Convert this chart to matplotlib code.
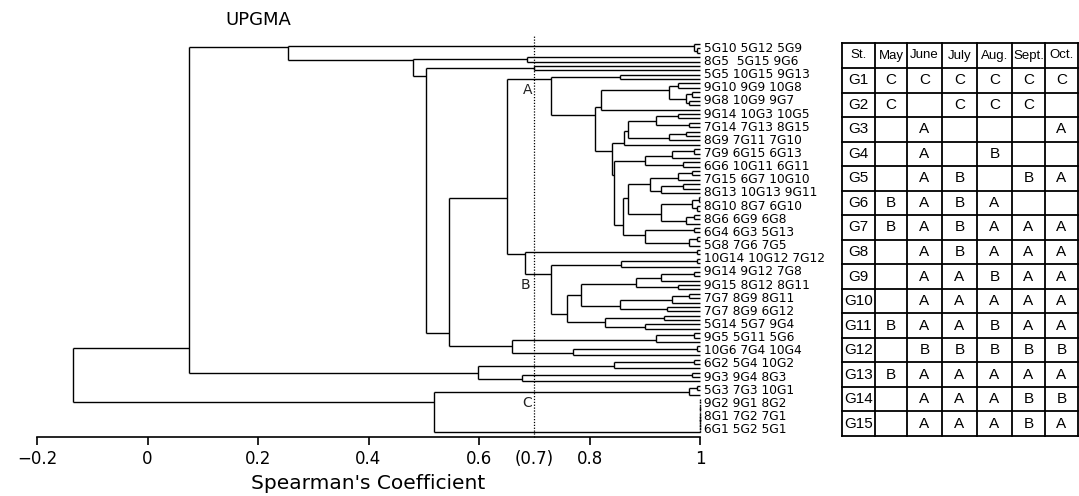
import matplotlib
matplotlib.use("Agg")
import matplotlib.pyplot as plt

# ---------------- data ----------------
row_labels = [
    "5G10 5G12 5G9", "8G5  5G15 9G6", "5G5 10G15 9G13", "9G10 9G9 10G8",
    "9G8 10G9 9G7", "9G14 10G3 10G5", "7G14 7G13 8G15", "8G9 7G11 7G10",
    "7G9 6G15 6G13", "6G6 10G11 6G11", "7G15 6G7 10G10", "8G13 10G13 9G11",
    "8G10 8G7 6G10", "8G6 6G9 6G8", "6G4 6G3 5G13", "5G8 7G6 7G5",
    "10G14 10G12 7G12", "9G14 9G12 7G8", "9G15 8G12 8G11", "7G7 8G9 8G11",
    "7G7 8G9 6G12", "5G14 5G7 9G4", "9G5 5G11 5G6", "10G6 7G4 10G4",
    "6G2 5G4 10G2", "9G3 9G4 8G3", "5G3 7G3 10G1", "9G2 9G1 8G2",
    "8G1 7G2 7G1", "6G1 5G2 5G1",
]

# sub-clusters (Newick-like, merge heights = Spearman coefficient)
R0 = "(L,(L,L):0.995):0.99"
R1 = "(L,L):0.687"
X = "(L,L):0.70"
A1 = "(L,L):0.855"
G83 = "((L,L):0.96,((L,L):0.985,(L,L):0.98):0.975):0.944"
A2a = "(" + G83 + ",L):0.82"
P = "((((L,L):0.96,(L,L):0.98):0.92,((L,L):0.975,L):0.944):0.87,L):0.862"
Q1 = "(((L,L):0.99,L):0.95,(L,L):0.97):0.90"
Q2 = ("((((L,L):0.985,L):0.96,((L,L):0.97,L):0.93):0.91,"
      "(((L,L):0.998,(L,L):0.995):0.985,((L,L):0.99,L):0.975):0.93):0.87")
Q3 = "((L,L):0.99,((L,L):0.995,L):0.98):0.90"
A2b = "(" + P + ",(" + Q1 + ",(" + Q2 + "," + Q3 + "):0.86):0.845):0.84"
A = "(" + A1 + ",(" + A2a + "," + A2b + "):0.81):0.73"
Bt = "(L,L):0.995"
Bb1 = "((L,L):0.995,L):0.857"
Bb2a1 = "(((L,L):0.99,L):0.93,(L,L):0.96):0.884"
Bb2a2 = "(((L,L):0.98,L):0.95,(L,L):0.94):0.855"
Bb2b = "((L,L):0.935,(L,L):0.90):0.828"
B = ("(" + Bt + ",(" + Bb1 + ",((" + Bb2a1 + "," + Bb2a2 + "):0.784,"
     + Bb2b + "):0.76):0.73):0.683")
D = "(((L,L):0.99,L):0.92,((L,L):0.995,L):0.77):0.659"
E = "((L,L):0.99,L):0.844"
F = "((L,L):0.985,L):0.677"
G = "((L,L):0.995,L):0.98"
C = "((((L,L):1,(L,L):1):1,((L,L):1,(L,L):1):1):1,L):1"
AB = "(" + A + "," + B + "):0.65"
N448 = "(" + AB + "," + D + "):0.545"
N425 = "(" + X + "," + N448 + "):0.504"
N412 = "(" + R1 + "," + N425 + "):0.48"
T = "(" + R0 + "," + N412 + "):0.255"
Bot = "(" + E + "," + F + "):0.598"
Big = "(" + T + "," + Bot + "):0.076"
CC = "(" + G + "," + C + "):0.518"
ROOT = "(" + Big + "," + CC + "):-0.134"

cluster_letters = ["A", "B", "C"]
cluster_letter_pos = [(0.688, 10.5), (0.684, 55.0), (0.688, 81.9)]
cut_value = 0.7

x_ticks = [-0.2, 0, 0.2, 0.4, 0.6, 0.7, 0.8, 1.0]
x_tick_labels = ["\u22120.2", "0", "0.2", "0.4", "0.6", "(0.7)", "0.8", "1"]

months = ["May", "June", "July", "Aug.", "Sept.", "Oct."]
stations = ["G%d" % i for i in range(1, 16)]
groups = [
    ["C", "C", "C", "C", "C", "C"],
    ["C", "", "C", "C", "C", ""],
    ["", "A", "", "", "", "A"],
    ["", "A", "", "B", "", ""],
    ["", "A", "B", "", "B", "A"],
    ["B", "A", "B", "A", "", ""],
    ["B", "A", "B", "A", "A", "A"],
    ["", "A", "B", "A", "A", "A"],
    ["", "A", "A", "B", "A", "A"],
    ["", "A", "A", "A", "A", "A"],
    ["B", "A", "A", "B", "A", "A"],
    ["", "B", "B", "B", "B", "B"],
    ["B", "A", "A", "A", "A", "A"],
    ["", "A", "A", "A", "B", "B"],
    ["", "A", "A", "A", "B", "A"],
]


# ---------------- tree parsing / layout ----------------
def parse(s):
    pos = [0]

    def node():
        if s[pos[0]] == "(":
            pos[0] += 1
            left = node()
            pos[0] += 1  # ','
            right = node()
            pos[0] += 2  # '):'
            j = pos[0]
            while pos[0] < len(s) and s[pos[0]] not in ",)":
                pos[0] += 1
            return {"h": float(s[j:pos[0]]), "kids": [left, right]}
        pos[0] += 1  # 'L'
        return {"h": 1.0, "kids": None}

    return node()


tree = parse(ROOT)
counter = [0]


def layout(n):
    if n["kids"] is None:
        n["y"] = counter[0]
        n["n"] = 1
        counter[0] += 1
        return
    for k in n["kids"]:
        layout(k)
    l, r = n["kids"]
    n["n"] = l["n"] + r["n"]
    # link attaches closer to the smaller child (style of the original figure)
    n["y"] = (l["y"] * r["n"] + r["y"] * l["n"]) / n["n"]


layout(tree)

# ---------------- figure ----------------
W, H = 1079, 496
fig = plt.figure(figsize=(W / 100, H / 100), dpi=100)
fig.patch.set_facecolor("white")


def fx(p):
    return p / W


def fy(p):
    return 1 - p / H


leaf_px0, leaf_dpx = 44.0, 4.382
ax_top_px, ax_bot_px = 36.0, 437.0
ax = fig.add_axes([fx(37), fy(ax_bot_px), fx(700) - fx(37), fy(ax_top_px) - fy(ax_bot_px)])
ax.set_xlim(-0.2, 1.0)
ax.set_ylim((ax_bot_px - leaf_px0) / leaf_dpx, (ax_top_px - leaf_px0) / leaf_dpx)

LW = 1.0


def draw(n):
    if n["kids"] is None:
        return
    l, r = n["kids"]
    dotted = n["h"] >= 1.0
    ls = (0, (1.2, 1.2)) if dotted else "-"
    ax.plot([n["h"], n["h"]], [l["y"], r["y"]], color="black", lw=LW,
            ls=ls, solid_capstyle="butt", clip_on=False)
    for k in (l, r):
        kx = k["h"]
        if kx != n["h"]:
            ax.plot([n["h"], kx], [k["y"], k["y"]], color="black", lw=LW,
                    solid_capstyle="butt", clip_on=False)
        draw(k)


draw(tree)

# cut line
ax.plot([cut_value, cut_value], [ax.get_ylim()[0], ax.get_ylim()[1] - 0.3],
        color="black", lw=0.9, ls=(0, (1, 1.3)), clip_on=False)

for lt, (lx, ly) in zip(cluster_letters, cluster_letter_pos):
    ax.text(lx, ly, lt, ha="center", va="center", fontsize=10,
            family="DejaVu Sans", color="#222222")

# row labels
for k, lab in enumerate(row_labels):
    ax.text(1.0, 3 * k + 1, " " + lab, ha="left", va="center", fontsize=8.8,
            family="DejaVu Sans", clip_on=False)

for s in ("top", "left", "right"):
    ax.spines[s].set_visible(False)
ax.spines["bottom"].set_linewidth(1.2)
ax.set_yticks([])
ax.set_xticks(x_ticks)
ax.set_xticklabels(x_tick_labels, fontsize=12, family="DejaVu Sans")
ax.tick_params(axis="x", direction="out", length=6, width=1.2, pad=3)
ax.xaxis.get_major_ticks()[x_ticks.index(0.7)].tick1line.set_visible(False)
ax.set_xlabel("Spearman's Coefficient", fontsize=14.5, family="DejaVu Sans", labelpad=5)
ax.patch.set_alpha(0)

fig.text(fx(258), fy(20), "UPGMA", ha="center", va="center", fontsize=13,
         family="DejaVu Sans")

# ---------------- table ----------------
tx0, tx1, ty0, ty1 = 842, 1078, 43, 436
tab = fig.add_axes([fx(tx0), fy(ty1), fx(tx1) - fx(tx0), fy(ty0) - fy(ty1)])
tab.set_xlim(0, tx1 - tx0)
tab.set_ylim(ty1 - ty0, 0)
tab.axis("off")
col_edges = [0, 33, 65, 100, 135, 170, 203, 236]
head_h = 25.0
row_h = (ty1 - ty0 - head_h) / len(stations)
row_edges = [0] + [head_h + i * row_h for i in range(len(stations) + 1)]
for xe in col_edges:
    tab.plot([xe, xe], [0, row_edges[-1]], color="black", lw=1.3, clip_on=False)
for ye in row_edges:
    tab.plot([0, col_edges[-1]], [ye, ye], color="black", lw=1.3, clip_on=False)


def cx(j):
    return (col_edges[j] + col_edges[j + 1]) / 2


def cy(i):
    return (row_edges[i] + row_edges[i + 1]) / 2


tab.text(cx(0), cy(0), "St.", ha="center", va="center", fontsize=9.5, family="Liberation Sans")
for j, m in enumerate(months):
    tab.text(cx(j + 1), cy(0), m, ha="center", va="center", fontsize=9.5,
             family="Liberation Sans")
for i, st in enumerate(stations):
    tab.text(cx(0), cy(i + 1), st, ha="center", va="center", fontsize=11,
             family="Liberation Sans")
    for j, g in enumerate(groups[i]):
        if g:
            tab.text(cx(j + 1), cy(i + 1), g, ha="center", va="center",
                     fontsize=11, family="Liberation Sans")

fig.savefig("out.png", dpi=100)
